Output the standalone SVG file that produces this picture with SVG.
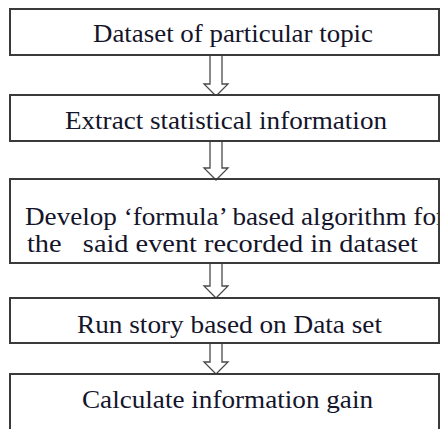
<svg xmlns="http://www.w3.org/2000/svg" width="441" height="429" viewBox="0 0 441 429">
<style>
.box{fill:#fff;stroke:#3a3a3a;stroke-width:2}
.arrow{fill:#fff;stroke:#4a4a4a;stroke-width:1.3;stroke-linejoin:miter}
.t{font-family:'Liberation Serif','Times New Roman',serif;font-size:25px;fill:#14142a;white-space:pre}
</style>
<rect width="441" height="429" fill="#fff"/>
<g id="connectors">
<path class="arrow" d="M210,55 V84 H204 L216,96 L228,84 H222 V55"/>
<path class="arrow" d="M210,141 V168 H204 L216,180 L228,168 H222 V141"/>
<path class="arrow" d="M210,263 V286 H204 L216,298 L228,286 H222 V263"/>
<path class="arrow" d="M210,343 V362 H204 L216,374 L228,362 H222 V343"/>
</g>
<g id="n1">
<rect class="box" x="10" y="9" width="429" height="46"/>
<text class="t" x="93" y="42" textLength="280" lengthAdjust="spacingAndGlyphs">Dataset of particular topic</text>
</g>
<g id="n2">
<rect class="box" x="10" y="95" width="429" height="46"/>
<text class="t" x="65" y="129" textLength="322" lengthAdjust="spacingAndGlyphs">Extract statistical information</text>
</g>
<g id="n3">
<text class="t" x="25" y="225" textLength="420" lengthAdjust="spacingAndGlyphs">Develop ‘formula’ based algorithm for</text>
<text class="t" x="27" y="252" textLength="391" lengthAdjust="spacingAndGlyphs">the   said event recorded in dataset</text>
<rect x="10" y="179" width="429" height="84" fill="none" stroke="#3a3a3a" stroke-width="2"/>
<rect x="440" y="170" width="1" height="100" fill="#fff"/>
</g>
<g id="n4">
<rect class="box" x="10" y="298" width="429" height="45"/>
<text class="t" x="77" y="333" textLength="305" lengthAdjust="spacingAndGlyphs">Run story based on Data set</text>
</g>
<g id="n5">
<rect class="box" x="10" y="374" width="429" height="70"/>
<text class="t" x="82" y="408" textLength="291" lengthAdjust="spacingAndGlyphs">Calculate information gain</text>
</g>
</svg>
